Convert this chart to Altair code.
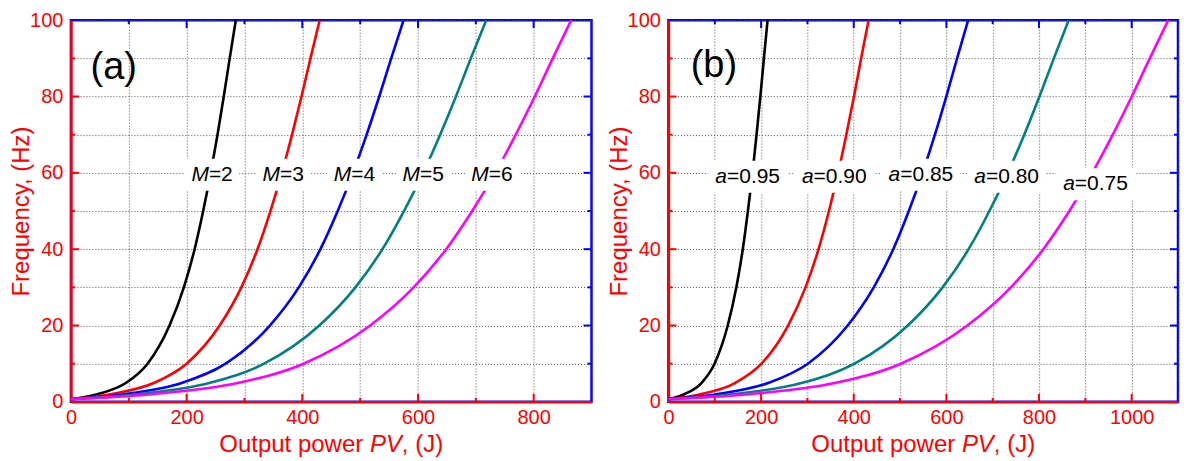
import altair as alt
import pandas as pd

FONT = "Liberation Sans"
RED = "#ff0000"
BLUE = "#0000ff"

# shared frequency levels (Hz) at which the power of each curve was read
freq = [0.7, 2, 5, 10, 20, 30, 40, 50, 60, 70, 80, 90, 100]

# panel (a): output power PV (J) for each M
m2_power = [0, 45.6, 95.5, 132.5, 170.4, 195.2, 213.8, 228.6, 241.7, 253.4, 264.2, 274.5, 285]
m3_power = [0, 68.8, 144.1, 200.0, 257.1, 294.6, 322.5, 344.9, 364.6, 382.3, 398.6, 414.1, 430]
m4_power = [0, 92.0, 192.6, 267.4, 343.9, 393.9, 431.3, 461.2, 487.6, 511.2, 533.0, 553.7, 575]
m5_power = [0, 114.9, 240.5, 333.9, 429.4, 491.8, 538.5, 575.8, 608.9, 638.3, 665.6, 691.4, 718]
m6_power = [0, 138.4, 289.8, 402.2, 517.3, 592.5, 648.8, 693.7, 733.5, 769.0, 801.9, 833.0, 865]

# panel (b): output power PV (J) for each a
a95_power = [0, 34.2, 71.7, 99.5, 128.0, 146.6, 160.5, 171.6, 181.5, 190.2, 198.4, 206.1, 214]
a90_power = [0, 69.1, 144.7, 200.9, 258.3, 295.9, 324.0, 346.5, 366.3, 384.0, 400.5, 416.0, 432]
a85_power = [0, 103.5, 216.7, 300.9, 386.9, 443.2, 485.3, 518.9, 548.7, 575.2, 599.8, 623.1, 647]
a80_power = [0, 138.2, 289.4, 401.8, 516.7, 591.8, 648.0, 692.9, 732.7, 768.1, 800.9, 832.0, 864]
a75_power = [0, 172.6, 361.5, 501.7, 645.2, 739.1, 809.3, 865.4, 915.0, 959.2, 1000.2, 1039.1, 1079]

series_a = ["M=2", "M=3", "M=4", "M=5", "M=6"]
series_b = ["a=0.95", "a=0.90", "a=0.85", "a=0.80", "a=0.75"]
colors = ["#000000", "#ff0000", "#0000ff", "#008080", "#ff00ff"]

# in-plot labels
label_a_var = ["M", "M", "M", "M", "M"]
label_a_rest = ["=2", "=3", "=4", "=5", "=6"]
label_a_x = [244, 367, 490, 609, 728]
label_a_y = [59.5, 59.5, 59.5, 59.5, 59.5]

label_b_var = ["a", "a", "a", "a", "a"]
label_b_rest = ["=0.95", "=0.90", "=0.85", "=0.80", "=0.75"]
label_b_x = [171, 358, 545, 730, 922]
label_b_y = [59, 59, 59.5, 59, 57]

# axis ticks
x_ticks_a = [0, 100, 200, 300, 400, 500, 600, 700, 800, 900]
x_ticks_b = [0, 100, 200, 300, 400, 500, 600, 700, 800, 900, 1000, 1100]
y_ticks = [0, 10, 20, 30, 40, 50, 60, 70, 80, 90, 100]

H = 382


def panel(names, powers, xmax, W, ticks_x, var_t, rest_t, lx, ly, box_w, anchor_dx, tag, tag_x, tag_y):
    rows = []
    for n, ps in zip(names, powers):
        for p, f in zip(ps, freq):
            rows.append({"power": p, "freq": f, "series": n})
    df = pd.DataFrame(rows)

    xs = alt.Scale(domain=[0, xmax], nice=False, zero=True)
    ys = alt.Scale(domain=[0, 100], nice=False)

    grid_kw = dict(grid=True, gridColor="#555555", gridDash=[1, 2], gridWidth=1, ticks=False,
                   domainColor=RED, domainWidth=2.5, labelColor=RED, labelFont=FONT,
                   labelFontSize=20, labelFlush=False, labelOverlap=False, format="d")
    x_axis = alt.Axis(values=ticks_x, labelExpr="datum.value % 200 === 0 ? datum.label : ''",
                      labelPadding=6, title=None, **grid_kw)
    y_axis = alt.Axis(values=y_ticks, labelExpr="datum.value % 20 === 0 ? datum.label : ''",
                      labelPadding=8, title="Frequency, (Hz)", titleColor=RED, titleFont=FONT,
                      titleFontSize=24, titleFontWeight="normal", titlePadding=-4, **grid_kw)

    def X(field):
        return alt.X(field, scale=xs, axis=x_axis, title=None)

    def Y(field):
        return alt.Y(field, scale=ys, axis=y_axis, title="Frequency, (Hz)")

    curves = alt.Chart(df).mark_line(strokeWidth=2.6, interpolate="monotone").encode(
        x=X("power:Q"),
        y=Y("freq:Q"),
        color=alt.Color("series:N", scale=alt.Scale(domain=names, range=colors), legend=None),
        order="freq:Q",
    )

    ldf = pd.DataFrame({"x": lx, "y": ly, "v": var_t, "r": rest_t})
    hh = 32.0 / box_w
    box_path = f"M-1,-{hh:.3f}H1V{hh:.3f}H-1Z"
    boxes = alt.Chart(ldf).mark_point(shape=box_path, size=box_w * box_w, filled=True,
                                      color="white", opacity=1, strokeWidth=0).encode(
        x=X("x:Q"), y=Y("y:Q"))
    var_txt = alt.Chart(ldf).mark_text(font=FONT, fontSize=21, fontStyle="italic", align="right",
                                       baseline="middle", dx=anchor_dx, color="black").encode(
        x=X("x:Q"), y=Y("y:Q"), text="v:N")
    rest_txt = alt.Chart(ldf).mark_text(font=FONT, fontSize=21, align="left",
                                        baseline="middle", dx=anchor_dx, color="black").encode(
        x=X("x:Q"), y=Y("y:Q"), text="r:N")

    tdf = pd.DataFrame({"x": [tag_x], "y": [tag_y], "t": [tag]})
    tag_txt = alt.Chart(tdf).mark_text(font=FONT, fontSize=38, align="center", baseline="middle",
                                       color="black").encode(x=X("x:Q"), y=Y("y:Q"), text="t:N")

    major_x = [v for v in ticks_x if v % 200 == 0 and 0 < v < xmax]
    minor_x = [v for v in ticks_x if v % 200 != 0 and 0 < v < xmax]
    major_y = [v for v in y_ticks if v % 20 == 0 and 0 < v < 100]
    minor_y = [v for v in y_ticks if v % 20 != 0 and 0 < v < 100]

    def xrule(vals, color, y0, y1):
        return alt.Chart(pd.DataFrame({"v": vals})).mark_rule(color=color, strokeWidth=2).encode(
            x=X("v:Q"), y=alt.value(y0), y2=alt.value(y1))

    def yrule(vals, color, x0, x1):
        return alt.Chart(pd.DataFrame({"v": vals})).mark_rule(color=color, strokeWidth=2).encode(
            y=Y("v:Q"), x=alt.value(x0), x2=alt.value(x1))

    ticks = [
        xrule(major_x, RED, H, H - 8), xrule(minor_x, RED, H, H - 4),
        xrule(major_x, BLUE, 0, 8), xrule(minor_x, BLUE, 0, 4),
        yrule(major_y, RED, 0, 8), yrule(minor_y, RED, 0, 4),
        yrule(major_y, BLUE, W, W - 8), yrule(minor_y, BLUE, W, W - 4),
    ]

    start = W / 2 - 112
    def title_part(t, x0, italic=False):
        kw = dict(fontStyle="italic") if italic else {}
        return alt.Chart(pd.DataFrame({"t": [t]})).mark_text(
            font=FONT, fontSize=24, color=RED, align="left", baseline="alphabetic", **kw).encode(
            x=alt.value(x0), y=alt.value(H + 50), text="t:N")

    titles = [title_part("Output power", start), title_part("PV", start + 150.7, True),
              title_part(", (J)", start + 182.7)]

    return alt.layer(curves, *ticks, boxes, var_txt, rest_txt, tag_txt, *titles).properties(
        width=W, height=H)


left = panel(series_a, [m2_power, m3_power, m4_power, m5_power, m6_power], 900, 521, x_ticks_a,
             label_a_var, label_a_rest, label_a_x, label_a_y, 54, -3.2, "(a)", 74, 87.4)
right = panel(series_b, [a95_power, a90_power, a85_power, a80_power, a75_power], 1100, 510, x_ticks_b,
              label_b_var, label_b_rest, label_b_x, label_b_y, 79, -20.7, "(b)", 98, 88)

chart = alt.hconcat(left, right, spacing=11).properties(padding=0, background="white").configure(
    font=FONT).configure_view(stroke=BLUE, strokeWidth=2.5)

chart.save("out.html", embed_options={"renderer": "svg", "actions": False})
